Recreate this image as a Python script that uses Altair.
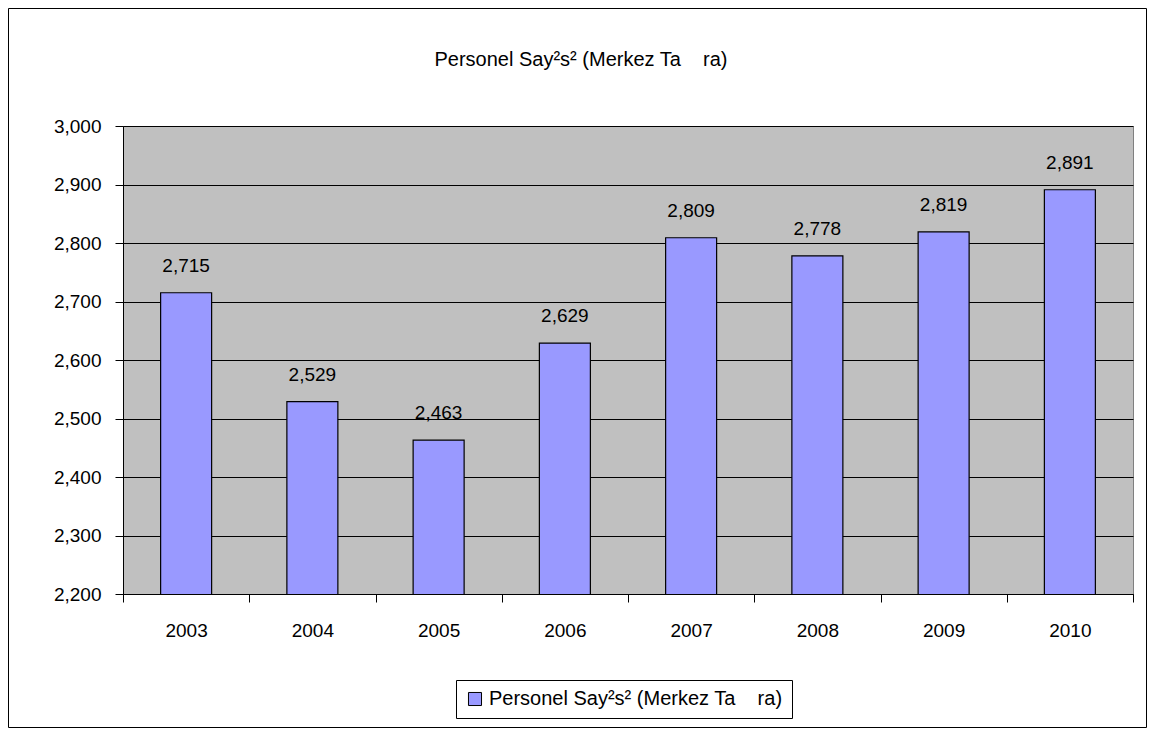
import altair as alt
import pandas as pd

years = ["2003", "2004", "2005", "2006", "2007", "2008", "2009", "2010"]
values = [2715, 2529, 2463, 2629, 2809, 2778, 2819, 2891]
series_name = "Personel Say²s² (Merkez Ta\u00a0\u00a0\u00a0\u00a0ra)"

df = pd.DataFrame({"year": years, "value": values, "series": [series_name] * len(years)})

W, H = 1010, 468
PL, PT, PR, PB = 115, 118, 14, 134
FONT = "Liberation Sans"
FS = 19
FS_T = 20

x = alt.X("year:N", title=None, sort=years,
          scale=alt.Scale(paddingInner=0, paddingOuter=0),
          axis=alt.Axis(labelAngle=0, labelFontSize=FS, labelFont=FONT, labelColor="black",
                        tickBand="extent", tickSize=8, tickColor="black",
                        domainColor="black", labelPadding=19, grid=False))
y = alt.Y("value:Q", title=None,
          scale=alt.Scale(domain=[2200, 3000], nice=False, zero=False),
          axis=alt.Axis(values=list(range(2200, 3001, 100)), format=",.0f",
                        labelFontSize=FS, labelFont=FONT, labelColor="black",
                        tickSize=8, tickColor="black", domainColor="black",
                        labelPadding=14, grid=True, gridColor="#000000", gridOpacity=1))

base = alt.Chart(df).encode(x=x, y=y)

bars = base.mark_bar(size=51, fill="#9999FF", stroke="black", strokeWidth=1.2, clip=True).encode(
    color=alt.Color("series:N", title=None,
                    scale=alt.Scale(domain=[series_name], range=["#9999FF"]),
                    legend=alt.Legend(orient="none", legendX=333, legendY=554,
                                      direction="horizontal",
                                      strokeColor="black", padding=9,
                                      symbolType="square", symbolSize=170,
                                      symbolStrokeColor="black", symbolStrokeWidth=1,
                                      symbolFillColor="#9999FF", symbolOffset=0,
                                      labelFontSize=FS_T, labelFont=FONT, labelColor="black",
                                      labelLimit=600, fillColor="white"))
)

labels = base.mark_text(baseline="alphabetic", dy=-21, fontSize=FS, font=FONT, color="black").encode(
    text=alt.Text("value:Q", format=",")
)

deco = alt.Chart(pd.DataFrame({"t": [series_name]}))

border = deco.mark_rect(fill=None, stroke="black", strokeWidth=1, clip=False).encode(
    x=alt.value(-PL + 0.5), x2=alt.value(W + PR - 0.5),
    y=alt.value(-PT + 0.5), y2=alt.value(H + PB - 0.5)
)

title = deco.mark_text(fontSize=FS_T, font=FONT, color="black", baseline="alphabetic",
                       align="center", clip=False).encode(
    text="t:N", x=alt.value(458), y=alt.value(-60)
)

chart = alt.layer(border, bars, labels, title).properties(
    width=W, height=H,
    autosize=alt.AutoSizeParams(type="none"),
    padding={"left": PL, "top": PT, "right": PR, "bottom": PB},
).configure_view(fill="#C0C0C0", stroke="#808080")

chart.save("out.html", embed_options={"renderer": "svg", "actions": False})
